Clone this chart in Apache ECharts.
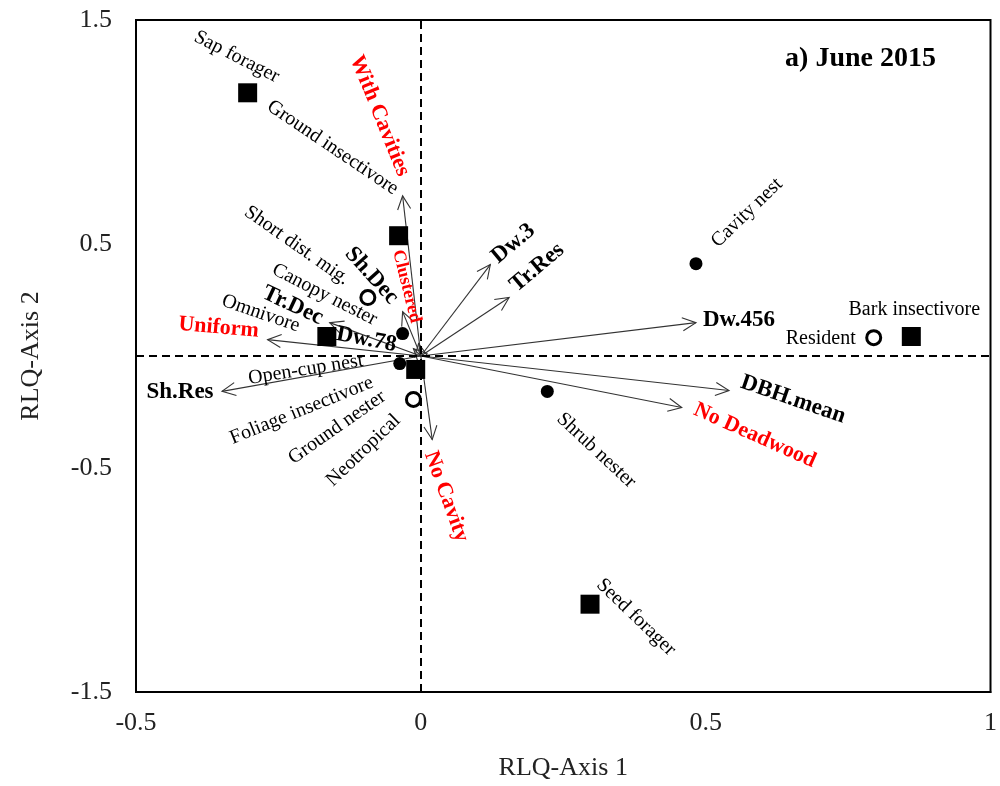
<!DOCTYPE html>
<html><head><meta charset="utf-8">
<script src="https://cdn.jsdelivr.net/npm/echarts@6/dist/echarts.min.js"></script>
<style>html,body{margin:0;padding:0;background:#fff}#c{width:1000px;height:786px}</style>
</head><body><div id="c"></div>
<script>
// ---- axis ranges / ticks ----
const xTicks = [-0.5, 0, 0.5, 1];
const yTicks = [-1.5, -0.5, 0.5, 1.5];

// ---- species traits: feeding guilds (filled squares) ----
const squareNames = ['Sap forager', 'Ground insectivore', 'Omnivore', 'Foliage insectivore', 'Bark insectivore', 'Seed forager'];
const squareX = [-0.304, -0.039, -0.165, -0.009, 0.861, 0.297];
const squareY = [1.175, 0.537, 0.087, -0.060, 0.087, -1.108];

// ---- migration (open circles) ----
const openNames = ['Short dist. mig.', 'Resident', 'Neotropical'];
const openX = [-0.093, 0.795, -0.013];
const openY = [0.261, 0.082, -0.194];

// ---- nesting guilds (filled circles) ----
const dotNames = ['Cavity nest', 'Canopy nester', 'Open-cup nest', 'Ground nester', 'Shrub nester'];
const dotX = [0.483, -0.032, -0.037, -0.012, 0.222];
const dotY = [0.412, 0.100, -0.034, -0.060, -0.158];

// ---- environmental variables (arrows from origin) ----
const envNames = ['With Cavities', 'Sh.Dec', 'Clustered', 'Dw.78', 'Tr.Dec', 'Uniform', 'Sh.Res', 'Dw.3', 'Tr.Res', 'Dw.456', 'DBH.mean', 'No Deadwood', 'No Cavity'];
const envX = [-0.032, -0.032, -0.004, -0.013, -0.160, -0.269, -0.349, 0.122, 0.155, 0.483, 0.541, 0.458, 0.020];
const envY = [0.715, 0.198, 0.056, 0.033, 0.149, 0.073, -0.158, 0.408, 0.261, 0.149, -0.154, -0.230, -0.373];
const redNames = ['With Cavities', 'Clustered', 'Uniform', 'No Deadwood', 'No Cavity'];

// ---- label placement (screen pixel offset from mark, rotation deg) ----
const labelPlace = {
  'Sap forager': [-11, -36, -27],
  'Ground insectivore': [-66, -88, -34],
  'Omnivore': [-66, -23, -19],
  'Foliage insectivore': [-114, 41, 22],
  'Bark insectivore': [3, -27, 0],
  'Seed forager': [46, 13, -44],
  'Short dist. mig.': [-71, -52, -35],
  'Resident': [-53, 1, 0],
  'Neotropical': [-50, 51, 44],
  'Cavity nest': [51, -51, 44],
  'Canopy nester': [-78, -39, -27],
  'Open-cup nest': [-94, 6, 9],
  'Ground nester': [-77, 58, 35],
  'Shrub nester': [49, 59, -43],
  'With Cavities': [-23, -80, -68],
  'Sh.Dec': [-31, -36, -48],
  'Clustered': [-12, -57, -76],
  'Dw.78': [-47, -9, -11],
  'Tr.Dec': [-37, -17, -25],
  'Uniform': [-49, -12, -5],
  'Sh.Res': [-42, 1, 0],
  'Dw.3': [23, -21, 40],
  'Tr.Res': [28, -30, 40],
  'Dw.456': [43, -3, 0],
  'DBH.mean': [64, 9, -19],
  'No Deadwood': [73, 28, -24],
  'No Cavity': [14, 57, -70]
};

const FONT = '"Liberation Serif","Times New Roman",serif';

// label offset is applied in the rotated text frame: convert screen offset to local
function localOffset(p) {
  const r = p[2] * Math.PI / 180, c = Math.cos(r), s = Math.sin(r);
  return [p[0] * c - p[1] * s, p[0] * s + p[1] * c];
}
function pointLabel(name) {
  const p = labelPlace[name];
  return {
    show: true, position: 'inside', formatter: name,
    offset: localOffset(p), rotate: p[2], align: 'center', verticalAlign: 'middle',
    fontFamily: FONT, fontSize: 20, color: '#000', opacity: 1
  };
}
function envLabel(name) {
  const p = labelPlace[name];
  const red = redNames.indexOf(name) >= 0;
  return {
    show: true, position: 'inside', formatter: name,
    offset: localOffset(p), rotate: p[2], align: 'center', verticalAlign: 'middle',
    fontFamily: FONT, fontWeight: 'bold',
    fontSize: name === 'Clustered' ? 18 : (red ? 22 : 23),
    color: red ? '#ff0000' : '#000', opacity: 1
  };
}

const squareData = squareNames.map((n, i) => ({ name: n, value: [squareX[i], squareY[i]], label: pointLabel(n) }));
const openData = openNames.map((n, i) => ({ name: n, value: [openX[i], openY[i]], label: pointLabel(n) }));
const dotData = dotNames.map((n, i) => ({ name: n, value: [dotX[i], dotY[i]], label: pointLabel(n) }));
const envData = envNames.map((n, i) => ({ name: n, value: [envX[i], envY[i]] }));
const envLabelData = envNames.map((n, i) => ({ name: n, value: [envX[i], envY[i]], label: envLabel(n) }));

const chart = echarts.init(document.getElementById('c'), null, { renderer: 'canvas' });
chart.setOption({
  backgroundColor: '#fff',
  animation: false,
  title: {
    text: 'a) June 2015', right: 59, top: 40,
    textStyle: { fontFamily: FONT, fontWeight: 'bold', fontSize: 28, color: '#000' }
  },
  grid: { left: 136, right: 8, top: 20, bottom: 93, show: true, borderColor: '#000', borderWidth: 2, backgroundColor: '#fff' },
  xAxis: {
    type: 'value', min: xTicks[0], max: xTicks[xTicks.length - 1], interval: 0.5,
    name: 'RLQ-Axis 1', nameLocation: 'middle', nameGap: 63,
    nameTextStyle: { fontFamily: FONT, fontSize: 26, color: '#222' },
    axisLine: { show: true, onZero: false, lineStyle: { color: '#000', width: 2 } },
    axisTick: { show: false },
    axisLabel: { margin: 18, fontFamily: FONT, fontSize: 26, color: '#222' },
    splitLine: { show: false }
  },
  yAxis: {
    type: 'value', min: yTicks[0], max: yTicks[yTicks.length - 1], interval: 1,
    name: 'RLQ-Axis 2', nameLocation: 'middle', nameGap: 92, nameRotate: 90,
    nameTextStyle: { fontFamily: FONT, fontSize: 26, color: '#222' },
    axisLine: { show: true, onZero: false, lineStyle: { color: '#000', width: 2 } },
    axisTick: { show: false },
    axisLabel: { margin: 24, fontFamily: FONT, fontSize: 26, color: '#222' },
    splitLine: { show: false }
  },
  series: [
    {
      type: 'custom', name: 'arrows', z: 2, silent: true,
      data: envData,
      renderItem: function (params, api) {
        const o = api.coord([0, 0]);
        const t = api.coord([api.value(0), api.value(1)]);
        const ang = Math.atan2(t[1] - o[1], t[0] - o[0]);
        const L = 15, a = 0.45;
        const h1 = [t[0] - L * Math.cos(ang - a), t[1] - L * Math.sin(ang - a)];
        const h2 = [t[0] - L * Math.cos(ang + a), t[1] - L * Math.sin(ang + a)];
        return {
          type: 'group', children: [
            { type: 'line', shape: { x1: o[0], y1: o[1], x2: t[0], y2: t[1] }, style: { stroke: '#333', lineWidth: 1.1 } },
            { type: 'polyline', shape: { points: [h1, t, h2] }, style: { stroke: '#333', lineWidth: 1.1, fill: null } }
          ]
        };
      },
      markLine: {
        silent: true, symbol: 'none', label: { show: false },
        lineStyle: { color: '#000', width: 2, type: [8, 5] },
        data: [{ xAxis: 0 }, { yAxis: 0 }]
      }
    },
    {
      type: 'scatter', name: 'env labels', z: 6, silent: true,
      symbol: 'circle', symbolSize: 1, itemStyle: { color: 'rgba(0,0,0,0)', opacity: 1 },
      data: envLabelData
    },
    {
      type: 'scatter', name: 'feeding', z: 4, silent: true,
      symbol: 'rect', symbolSize: 19, itemStyle: { color: '#000', opacity: 1 },
      data: squareData
    },
    {
      type: 'scatter', name: 'migration', z: 4, silent: true,
      symbol: 'circle', symbolSize: 14, itemStyle: { color: '#fff', borderColor: '#000', borderWidth: 3, opacity: 1 },
      data: openData
    },
    {
      type: 'scatter', name: 'nesting', z: 3, silent: true,
      symbol: 'circle', symbolSize: 13, itemStyle: { color: '#000', opacity: 1 },
      data: dotData
    }
  ]
});
</script>
</body></html>
